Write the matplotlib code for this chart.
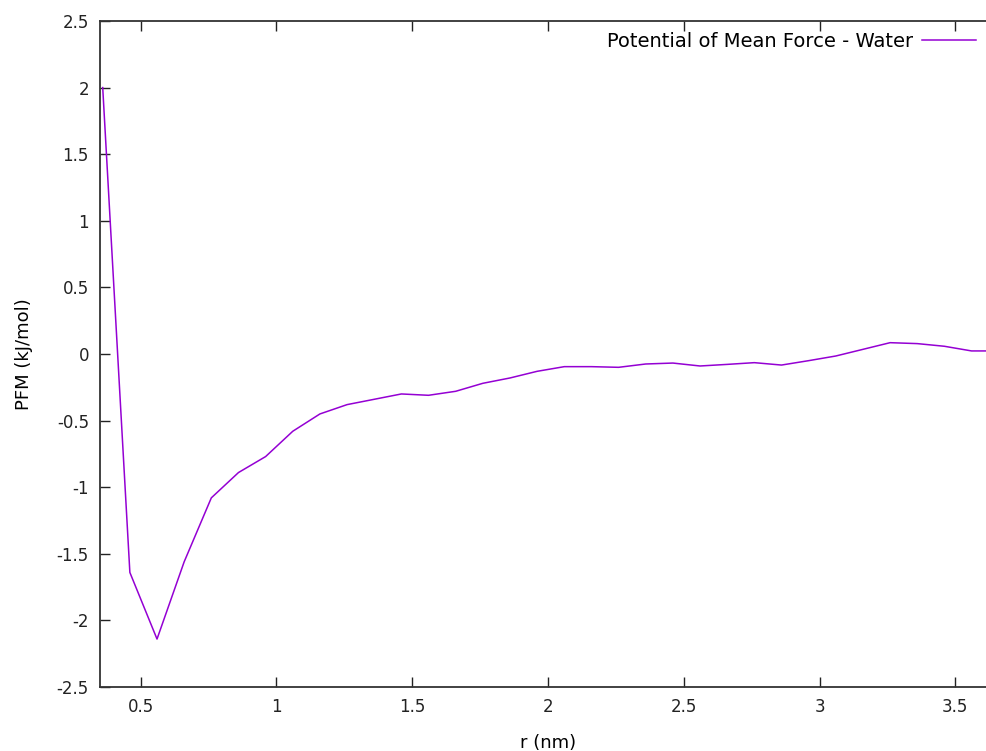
import matplotlib.pyplot as plt

# r (nm) and potential of mean force (kJ/mol)
r = [0.36, 0.46, 0.56, 0.66, 0.76, 0.86, 0.96, 1.06, 1.16, 1.26, 1.36,
     1.46, 1.56, 1.66, 1.76, 1.86, 1.96, 2.06, 2.16, 2.26, 2.36, 2.46,
     2.56, 2.66, 2.76, 2.86, 2.96, 3.06, 3.16, 3.26, 3.36, 3.46, 3.56, 3.66]
pmf = [2.0, -1.64, -2.14, -1.56, -1.08, -0.89, -0.77, -0.58, -0.45, -0.38, -0.34,
       -0.30, -0.31, -0.28, -0.22, -0.18, -0.13, -0.095, -0.095, -0.10, -0.075, -0.068,
       -0.09, -0.078, -0.065, -0.083, -0.05, -0.015, 0.035, 0.085, 0.078, 0.058, 0.023, 0.023]
yticks = [-2.5, -2, -1.5, -1, -0.5, 0, 0.5, 1, 1.5, 2, 2.5]
ytick_labels = ["-2.5", "-2", "-1.5", "-1", "-0.5", "0", "0.5", "1", "1.5", "2", "2.5"]
xticks = [0.5, 1, 1.5, 2, 2.5, 3, 3.5]
xtick_labels = ["0.5", "1", "1.5", "2", "2.5", "3", "3.5"]

plt.rcParams['font.family'] = ['DejaVu Sans']
fig = plt.figure(figsize=(9.87, 7.51), dpi=100)
# the gnuplot frame runs a little past the right edge of the picture
ax = fig.add_axes([100 / 987, 64 / 751, 896 / 987, 666 / 751])

ax.plot(r, pmf, color="#9400D3", lw=1.1, label="Potential of Mean Force - Water")

ax.set_xlim(0.35, 3.65)
ax.set_ylim(-2.5, 2.5)
ax.set_xticks(xticks)
ax.set_xticklabels(xtick_labels)
ax.set_yticks(yticks)
ax.set_yticklabels(ytick_labels)
ax.tick_params(direction="in", length=7, width=1, top=True, right=True,
               labelsize=12, colors="#222222", pad=8)
for s in ax.spines.values():
    s.set_linewidth(1.3)
    s.set_color("#333333")

ax.set_xlabel("r (nm)", fontsize=13, labelpad=13)
ax.set_ylabel("PFM (kJ/mol)", fontsize=13, labelpad=17)

leg = ax.legend(loc="upper right", bbox_to_anchor=(0.978, 0.984),
                frameon=False, markerfirst=False, fontsize=14,
                handlelength=2.8, borderaxespad=0, borderpad=0, handletextpad=0.45)

fig.savefig("out.png", dpi=100)
